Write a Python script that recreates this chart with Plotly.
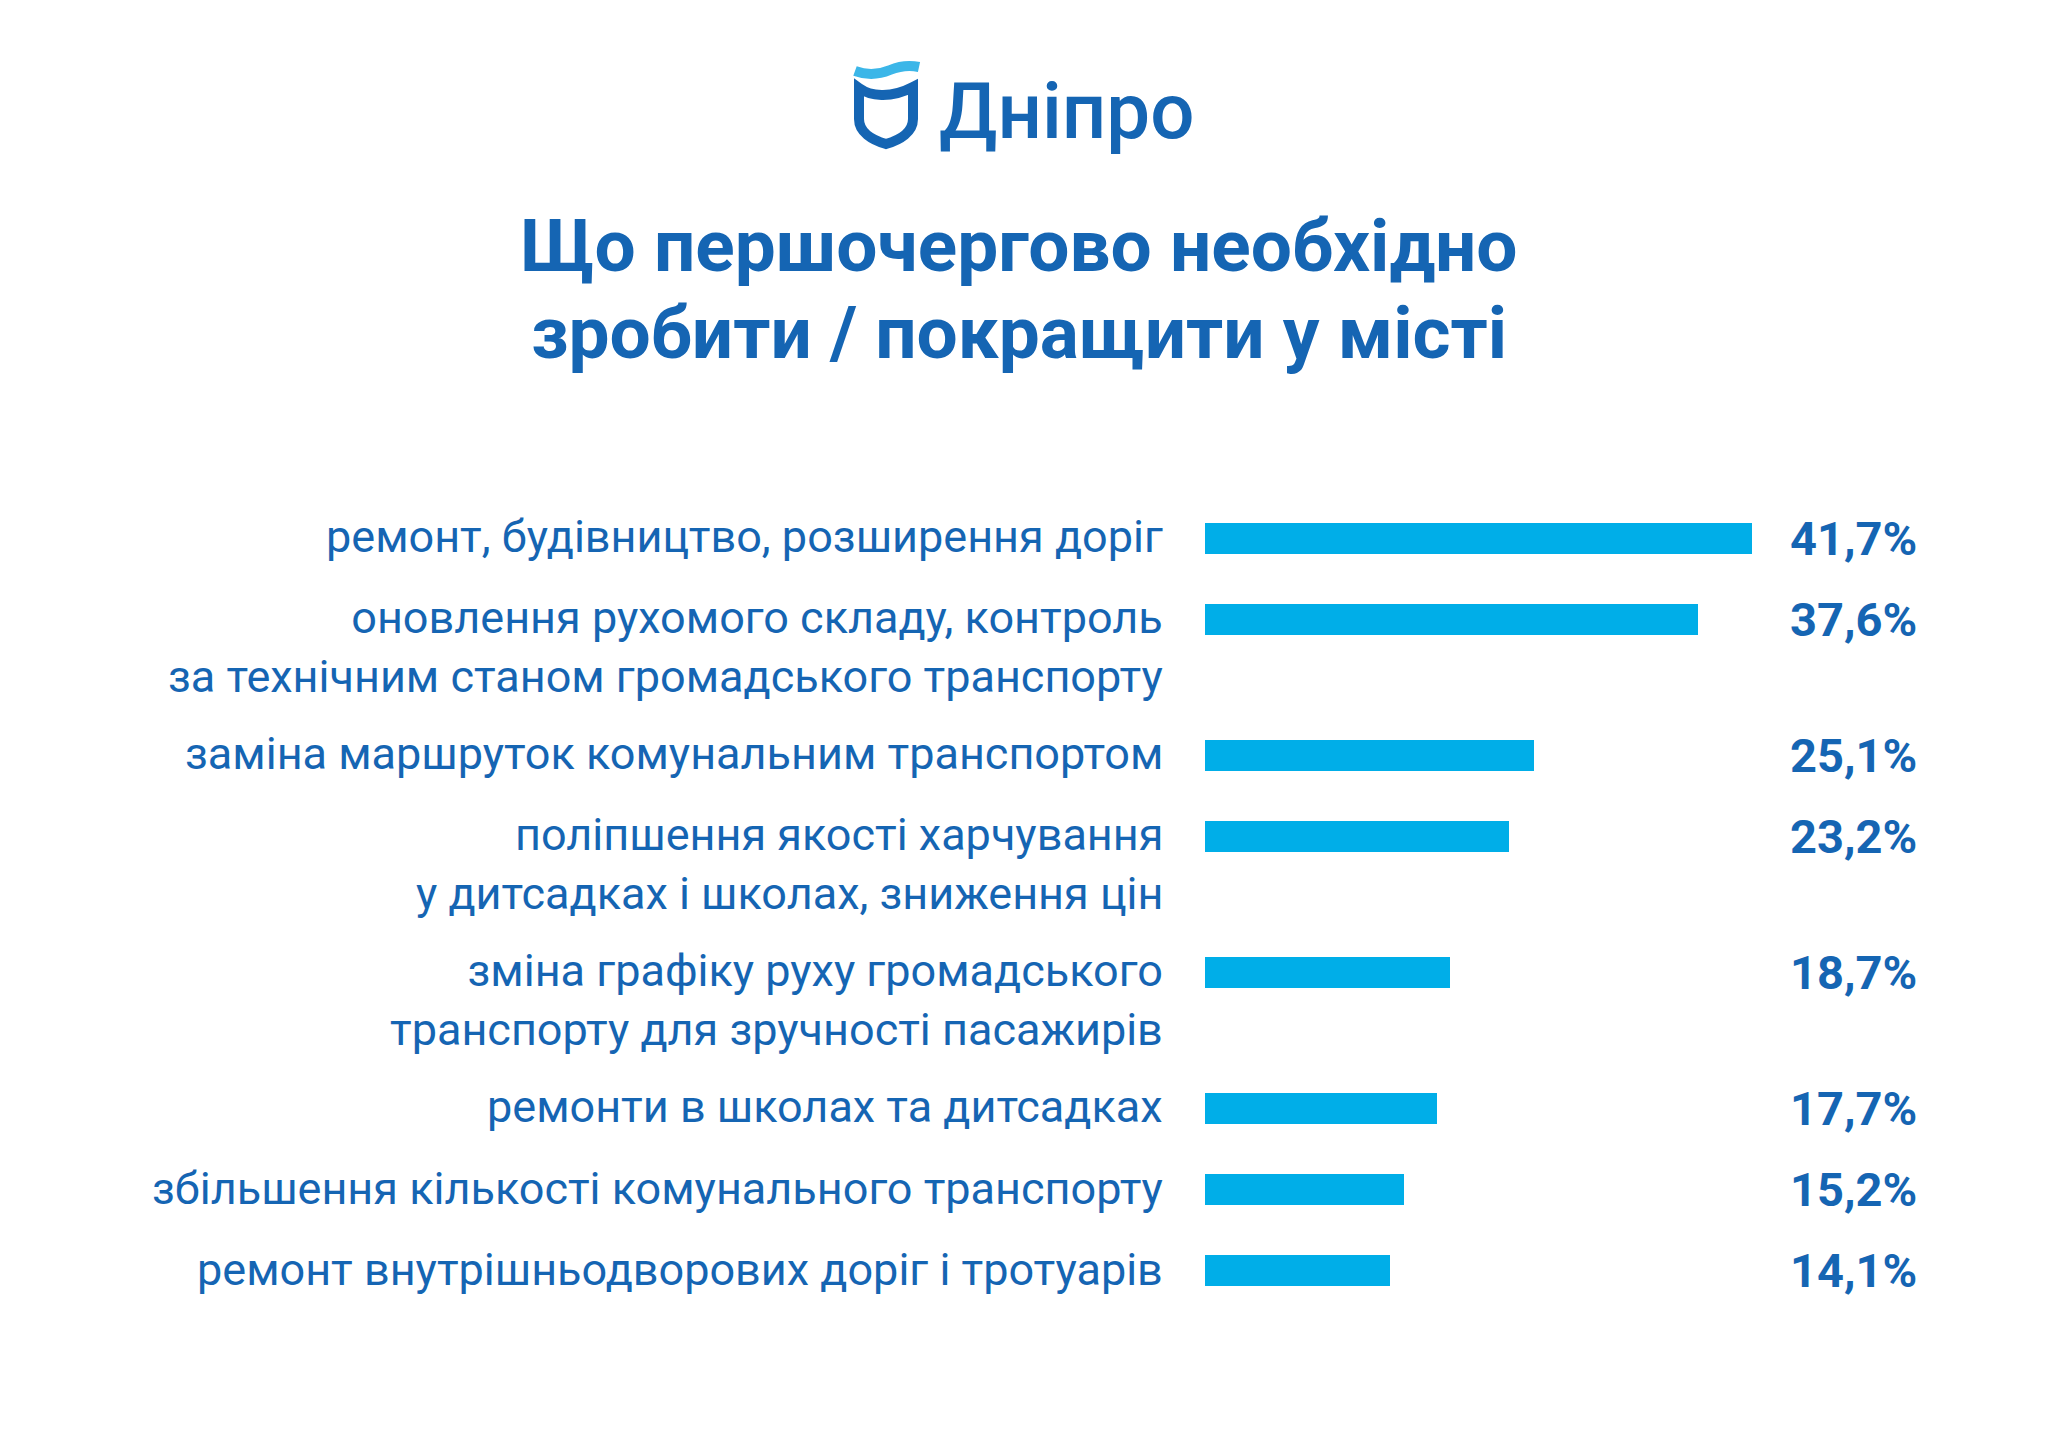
import plotly.graph_objects as go

# ── дані ──
labels = [
    "ремонт, будівництво, розширення доріг",
    "оновлення рухомого складу, контроль<br>за технічним станом громадського транспорту",
    "заміна маршруток комунальним транспортом",
    "поліпшення якості харчування<br>у дитсадках і школах, зниження цін",
    "зміна графіку руху громадського<br>транспорту для зручності пасажирів",
    "ремонти в школах та дитсадках",
    "збільшення кількості комунального транспорту",
    "ремонт внутрішньодворових доріг і тротуарів",
]
values = [41.7, 37.6, 25.1, 23.2, 18.7, 17.7, 15.2, 14.1]

title_lines = ["Що першочергово необхідно", "зробити / покращити у місті"]
brand = "Дніпро"

# ── стиль ──
W, H = 2048, 1448
PAGE_PAD = 8  # відступ body у html
BLUE = "#1565b3"
BAR = "#00aee8"
WAVE = "#3bb6e8"
FONT = "Roboto, 'Open Sans', sans-serif"

# позиції рядків: дворядкові підписи займають більше місця
LINE_GAP = 0.675
positions = []
p = 0.0
for lab in labels:
    positions.append(p)
    p += 1 + LINE_GAP * lab.count("<br>")

# шкала: піксель = X0 + PX_PER_PCT * значення
X0, PX_PER_PCT = 1205 - PAGE_PAD, 13.12
Y0, PX_PER_ROW = 538 - PAGE_PAD, 81.2
x_range = [-X0 / PX_PER_PCT, (W - X0) / PX_PER_PCT]
y_range = [(H - Y0) / PX_PER_ROW, -Y0 / PX_PER_ROW]

pct_text = [f"{v:.1f}%".replace(".", ",") for v in values]

fig = go.Figure()
fig.add_trace(go.Bar(
    x=values,
    y=positions,
    orientation="h",
    width=31 / PX_PER_ROW,
    marker=dict(color=BAR, line=dict(width=0)),
    hoverinfo="skip",
    showlegend=False,
))
# невидимий шар для екранних піксельних координат (логотип, заголовок)
fig.add_trace(go.Scatter(x=[PAGE_PAD, W], y=[PAGE_PAD, H], mode="markers", marker=dict(opacity=0),
                         xaxis="x2", yaxis="y2", hoverinfo="skip", showlegend=False))

annotations = []
for lab, pos, t in zip(labels, positions, pct_text):
    annotations.append(dict(
        x=1165, xref="x2", y=pos, yref="y",
        text=lab, showarrow=False, xanchor="right", yanchor="top", align="right",
        yshift=30, font=dict(family=FONT, size=45, color=BLUE),
    ))
    annotations.append(dict(
        x=1919, xref="x2", y=pos, yref="y",
        text=t, showarrow=False, xanchor="right", yanchor="middle",
        font=dict(family=FONT, size=47, color=BLUE, weight="bold"),
    ))

for line, ty in zip(title_lines, [246, 333]):
    annotations.append(dict(
        x=1019, xref="x2", y=ty, yref="y2",
        text=line, showarrow=False, xanchor="center", yanchor="middle",
        font=dict(family=FONT, size=73, color=BLUE, weight="bold"),
    ))
annotations.append(dict(
    x=937, xref="x2", y=111, yref="y2",
    text=brand, showarrow=False, xanchor="left", yanchor="middle",
    font=dict(family=FONT, size=78, color=BLUE, weight=500),
))

shapes = [
    # хвиля
    dict(type="path", xref="x2", yref="y2",
         path="M 855 71 C 866 75, 878 75, 890 70 S 910 65, 919 67",
         line=dict(color=WAVE, width=10), fillcolor="rgba(0,0,0,0)"),
    # щит
    dict(type="path", xref="x2", yref="y2",
         path="M 859 88 C 870 96, 890 99, 913 87 L 913 119 "
              "C 913 132, 900 140, 886 144 C 872 140, 859 132, 859 119 Z",
         line=dict(color=BLUE, width=10), fillcolor="rgba(0,0,0,0)"),
]

fig.update_layout(
    width=W, height=H,
    margin=dict(l=0, r=0, t=0, b=0),
    paper_bgcolor="white", plot_bgcolor="white",
    xaxis=dict(range=x_range, domain=[0, 1], visible=False, fixedrange=True),
    yaxis=dict(range=y_range, domain=[0, 1], visible=False, fixedrange=True),
    xaxis2=dict(range=[PAGE_PAD, W + PAGE_PAD], domain=[0, 1], visible=False, overlaying="x"),
    yaxis2=dict(range=[H + PAGE_PAD, PAGE_PAD], domain=[0, 1], visible=False, overlaying="y"),
    annotations=annotations,
    shapes=shapes,
    bargap=0,
)

fig.write_html("out.html")
